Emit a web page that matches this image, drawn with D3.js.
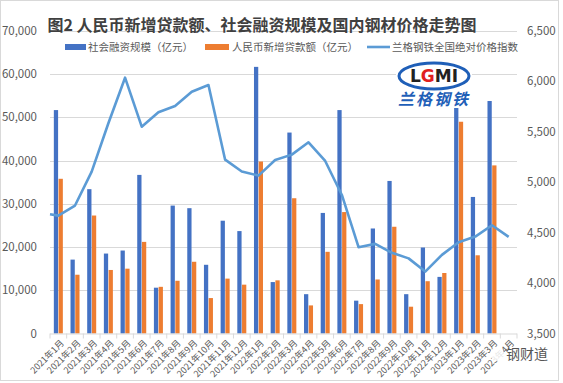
<!DOCTYPE html>
<html><head><meta charset="utf-8">
<script src="https://cdn.jsdelivr.net/npm/d3@7"></script>
<style>
html,body{margin:0;padding:0;background:#fff;}
svg{display:block;font-family:"Noto Sans CJK SC","Noto Sans",sans-serif;}
</style></head>
<body>
<svg id="chart" width="563" height="383"></svg>
<script>
const categories = ["2021年1月","2021年2月","2021年3月","2021年4月","2021年5月","2021年6月","2021年7月","2021年8月","2021年9月","2021年10月","2021年11月","2021年12月","2022年1月","2022年2月","2022年3月","2022年4月","2022年5月","2022年6月","2022年7月","2022年8月","2022年9月","2022年10月","2022年11月","2022年12月","2023年1月","2023年2月","2023年3月","2023年4月"];
const tsf = [51700,17100,33400,18500,19200,36700,10600,29600,29000,15900,26100,23700,61700,11900,46500,9100,27900,51700,7600,24300,35300,9100,19900,13100,59800,31600,53800,null];
const loans = [35800,13600,27300,14700,15000,21200,10800,12200,16600,8200,12700,11300,39800,12300,31300,6500,18900,28100,6800,12500,24700,6200,12100,14000,49000,18100,38900,null];
const priceIndex = [4669,4769,5106,5585,6037,5551,5694,5756,5898,5964,5224,5106,5066,5221,5274,5396,5211,4874,4356,4389,4300,4245,4114,4280,4405,4461,4574,4458];
const priceLead = 4683;
const leftTicks = [0,10000,20000,30000,40000,50000,60000,70000];
const rightTicks = [3500,4000,4500,5000,5500,6000,6500];
const seriesNames = ["社会融资规模（亿元）","人民币新增贷款额（亿元）","兰格钢铁全国绝对价格指数"];
const title = "图2 人民币新增贷款额、社会融资规模及国内钢材价格走势图";

const svg = d3.select("#chart");
const L = 50, R = 517, T = 31, B = 333.5;
const blue = "#4472C4", orange = "#ED7D31", lineC = "#5B9BD5", grid = "#d9d9d9", txt = "#595959";

svg.append("rect").attr("x",0.5).attr("y",0.5).attr("width",558).attr("height",380)
  .attr("fill","#fff").attr("stroke","#d9d9d9");

const x = d3.scaleBand().domain(categories).range([L,R]).paddingInner(0.46).paddingOuter(0.23);
const xs = d3.scaleBand().domain(["tsf","loans"]).range([0,x.bandwidth()]).paddingInner(0.1);
const yL = d3.scaleLinear().domain([0,70000]).range([B,T]);
const yR = d3.scaleLinear().domain([3500,6500]).range([B,T]);
const cx = d => x(d) + x.bandwidth()/2;

// gridlines
svg.append("g").selectAll("line").data(leftTicks.slice(1)).join("line")
  .attr("x1",L).attr("x2",R).attr("y1",d=>Math.round(yL(d))+0.5).attr("y2",d=>Math.round(yL(d))+0.5)
  .attr("stroke",grid).attr("stroke-width",1.2);

// axes labels
const fmt = d3.format(",");
svg.append("g").selectAll("text").data(leftTicks).join("text")
  .attr("x",37).attr("y",d=>yL(d)).attr("dy","0.35em").attr("text-anchor","end")
  .attr("font-size",11.5).attr("fill",txt).text(d=>fmt(d));
svg.append("g").selectAll("text").data(rightTicks).join("text")
  .attr("x",527).attr("y",d=>yR(d)).attr("dy","0.35em").attr("text-anchor","start")
  .attr("font-size",11.5).attr("fill",txt).text(d=>fmt(d));

// bars
const gb = svg.append("g");
categories.forEach((c,i)=>{
  if(tsf[i]!=null) gb.append("rect").attr("x",x(c)+xs("tsf")).attr("width",xs.bandwidth())
    .attr("y",yL(tsf[i])).attr("height",B-yL(tsf[i])).attr("fill",blue);
  if(loans[i]!=null) gb.append("rect").attr("x",x(c)+xs("loans")).attr("width",xs.bandwidth())
    .attr("y",yL(loans[i])).attr("height",B-yL(loans[i])).attr("fill",orange);
});

// x axis line & ticks
svg.append("line").attr("x1",L).attr("x2",R).attr("y1",B+0.5).attr("y2",B+0.5).attr("stroke",grid).attr("stroke-width",1.2);
const step = x.step();
svg.append("g").selectAll("line").data(categories.concat(["end"])).join("line")
  .attr("x1",(d,i)=>L+i*step).attr("x2",(d,i)=>L+i*step).attr("y1",B).attr("y2",B+5)
  .attr("stroke",grid);

svg.append("g").selectAll("text").data(categories).join("text")
  .attr("transform",d=>`translate(${cx(d)+4},${B+8}) rotate(-45)`)
  .attr("text-anchor","end").attr("dy","0.35em").attr("font-size",9).attr("fill",txt)
  .text(d=>d);

// line
const pts = [[L, yR(priceLead)]].concat(categories.map((c,i)=>[cx(c), yR(priceIndex[i])]));
svg.append("path").attr("d",d3.line()(pts)).attr("fill","none").attr("stroke",lineC)
  .attr("stroke-width",2.6).attr("stroke-linejoin","round");

// title
svg.append("text").attr("x",262).attr("y",31).attr("text-anchor","middle")
  .attr("font-size",16).attr("font-weight","bold").attr("fill","#404040").text(title);

// legend
const lg = svg.append("g").attr("font-size",10.5).attr("fill",txt);
const ly = 47;
lg.append("rect").attr("x",65).attr("y",ly-3).attr("width",21).attr("height",6).attr("fill",blue);
lg.append("text").attr("x",88).attr("y",ly).attr("dy","0.35em").text(seriesNames[0]);
lg.append("rect").attr("x",205).attr("y",ly-3).attr("width",24).attr("height",6).attr("fill",orange);
lg.append("text").attr("x",232).attr("y",ly).attr("dy","0.35em").text(seriesNames[1]);
lg.append("line").attr("x1",367).attr("x2",390).attr("y1",ly).attr("y2",ly).attr("stroke",lineC).attr("stroke-width",2.6);
lg.append("text").attr("x",392).attr("y",ly).attr("dy","0.35em").text(seriesNames[2]);

// logo
const logo = svg.append("g");
logo.append("rect").attr("x",396).attr("y",60).attr("width",76).attr("height",48).attr("fill","#fff");
logo.append("ellipse").attr("cx",434).attr("cy",76).attr("rx",35).attr("ry",13)
  .attr("fill","#fff").attr("stroke","#1f5fb8").attr("stroke-width",3);
const lt = logo.append("text").attr("x",434).attr("y",82).attr("text-anchor","middle")
  .attr("font-size",17).attr("font-weight","bold").attr("font-family","DejaVu Sans, sans-serif").attr("fill","#222");
lt.append("tspan").text("L");
lt.append("tspan").attr("fill","#e02020").text("G");
lt.append("tspan").text("MI");
logo.append("text").attr("x",434).attr("y",105).attr("text-anchor","middle")
  .attr("font-size",16).attr("font-weight","bold").attr("font-style","italic").attr("fill","#1f5fb8")
  .attr("letter-spacing",2).text("兰格钢铁");

// watermark
const wm = svg.append("g");
wm.append("circle").attr("cx",497).attr("cy",354).attr("r",7).attr("fill","#fff").attr("opacity",0.85);
wm.append("text").attr("x",506).attr("y",359).attr("font-size",14).attr("fill","#555").text("钢财道");
</script>
</body></html>
